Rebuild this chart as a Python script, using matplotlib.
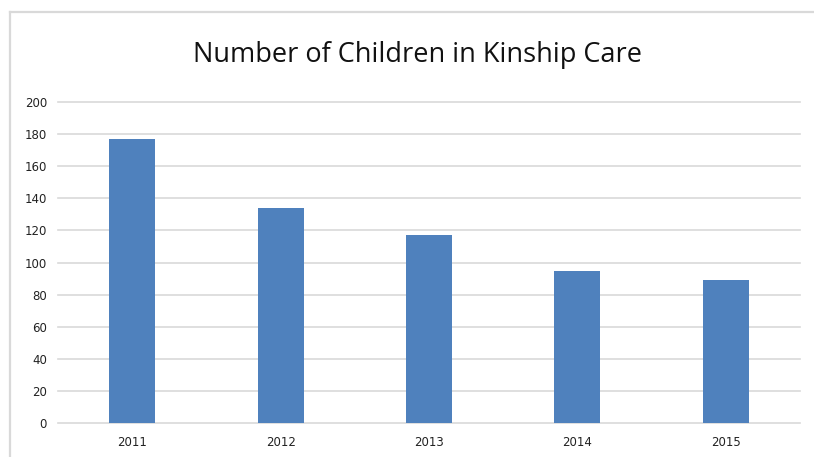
import matplotlib.pyplot as plt
from matplotlib.lines import Line2D

years = ["2011", "2012", "2013", "2014", "2015"]
children = [177, 134, 117, 95, 89]
yticks = [0, 20, 40, 60, 80, 100, 120, 140, 160, 180, 200]

W, H = 814, 457
fig = plt.figure(figsize=(W / 100, H / 100), dpi=100)
ax = fig.add_axes([58 / W, 1 - 423 / H, (800 - 58) / W, (423 - 102) / H])

x = range(len(years))
ax.bar(x, children, width=0.31, color="#4f81bd", zorder=2)
ax.set_xlim(-0.5, len(years) - 0.5)
ax.set_ylim(0, 200)
ax.set_yticks(yticks)
ax.set_xticks(list(x))
ax.set_xticklabels(years)
ax.grid(axis="y", color="#d9d9d9", linewidth=1.2, zorder=0)
for gl in ax.get_ygridlines():
    gl.set_clip_on(False)
ax.tick_params(length=0, labelsize=8.5, colors="#222222")
ax.tick_params(axis="y", pad=8)
ax.tick_params(axis="x", pad=9)
for s in ax.spines.values():
    s.set_visible(False)

fig.text(417 / W, 1 - 55 / H, "Number of Children in Kinship Care", ha="center",
         va="center", fontsize=19.5, family="Open Sans", color="#111111")

# chart border (top and left only visible)
fig.add_artist(Line2D([9.5 / W, 1], [1 - 12 / H, 1 - 12 / H], color="#d9d9d9", lw=1.6))
fig.add_artist(Line2D([9.5 / W, 9.5 / W], [0, 1 - 12 / H], color="#d9d9d9", lw=1.6))

fig.savefig("out.png", dpi=100)
